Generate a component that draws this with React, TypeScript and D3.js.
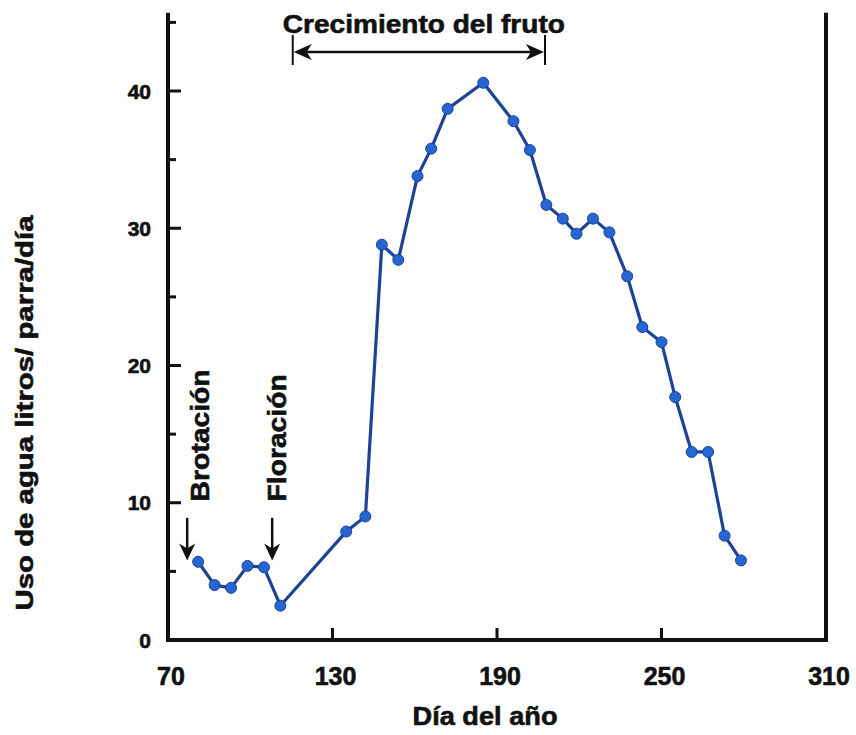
import React, { useEffect, useRef } from 'react';
import * as d3 from 'd3';

// día del año y uso de agua (litros/parra/día)
const days = [81, 87, 93, 99, 105, 111, 135, 142, 148, 154, 161, 166, 172, 185, 196, 202, 208, 214, 219, 225, 231, 237.5, 243, 250, 255, 261, 267, 273, 279];
const waterUse = [5.7, 4.0, 3.8, 5.4, 5.3, 2.5, 7.9, 9.0, 28.8, 27.7, 33.8, 35.8, 38.7, 40.6, 37.8, 35.7, 31.7, 30.7, 29.6, 30.7, 29.7, 26.5, 22.8, 21.7, 17.7, 13.7, 13.7, 7.6, 5.8];

const xTicks = [70, 130, 190, 250, 310];
const yMajorTicks = [0, 10, 20, 30, 40];
const yMinorTicks = [5, 15, 25, 35, 45];

const stageLabels = ['Brotación', 'Floración'];
const stageDays = [77, 108];
const fruitLabel = 'Crecimiento del fruto';
const fruitDays = [115.5, 207.5];

const FONT = '"Liberation Sans", Arial, sans-serif';

function Chart() {
  const ref = useRef<SVGSVGElement>(null);

  useEffect(() => {
    const svg = d3.select(ref.current);
    svg.selectAll('*').remove();

    const x = d3.scaleLinear().domain([70, 310]).range([168, 826]);
    const y = d3.scaleLinear().domain([0, 40]).range([640, 91]);
    const yTop = y(45.7);

    const boldText = (sel: any) => sel
      .attr('font-family', FONT).attr('font-weight', 'bold')
      .attr('fill', '#111').attr('stroke', '#111').attr('stroke-width', 0.6);

    // ticks del eje y (hacia adentro)
    const ticks = svg.append('g').attr('stroke', '#111').attr('stroke-width', 3);
    ticks.selectAll('line.ymaj')
      .data(yMajorTicks).enter().append('line')
      .attr('x1', x(70)).attr('x2', x(70) + 13)
      .attr('y1', d => y(d)).attr('y2', d => y(d));
    ticks.selectAll('line.ymin')
      .data(yMinorTicks).enter().append('line')
      .attr('x1', x(70)).attr('x2', x(70) + 8)
      .attr('y1', d => y(d)).attr('y2', d => y(d));
    ticks.selectAll('line.xt')
      .data(xTicks.slice(1, -1)).enter().append('line')
      .attr('x1', d => x(d)).attr('x2', d => x(d))
      .attr('y1', y(0)).attr('y2', y(0) - 12);

    svg.append('g').selectAll('text')
      .data(yMajorTicks).enter().append('text')
      .attr('x', x(70) - 17)
      .attr('y', d => y(d))
      .attr('dy', '0.36em')
      .attr('text-anchor', 'end')
      .attr('font-size', 21)
      .call(boldText)
      .text(d => d3.format('d')(d));

    svg.append('g').selectAll('text')
      .data(xTicks).enter().append('text')
      .attr('x', d => x(d) + 3)
      .attr('y', 685)
      .attr('text-anchor', 'middle')
      .attr('font-size', 25)
      .call(boldText)
      .text(d => d3.format('d')(d));

    // marco: izquierda, abajo, derecha
    svg.append('path')
      .attr('d', `M${x(70)},${yTop}V${y(0)}H${x(310)}V${yTop}`)
      .attr('fill', 'none')
      .attr('stroke', '#111')
      .attr('stroke-width', 4);

    // linea y puntos
    const pts = days.map((d, i) => [d, waterUse[i]] as [number, number]);
    const line = d3.line<[number, number]>().x(d => x(d[0])).y(d => y(d[1]));
    svg.append('path')
      .datum(pts)
      .attr('d', line)
      .attr('fill', 'none')
      .attr('stroke', '#1c4396')
      .attr('stroke-width', 3.2)
      .attr('stroke-linejoin', 'round');
    svg.selectAll('circle.pt')
      .data(pts)
      .enter()
      .append('circle')
      .attr('class', 'pt')
      .attr('cx', d => x(d[0]))
      .attr('cy', d => y(d[1]))
      .attr('r', 5.5)
      .attr('fill', '#2566d3')
      .attr('stroke', '#1c4396')
      .attr('stroke-width', 1);

    // flechas de fenologia
    const labelOffsets = [12, 4];
    stageDays.forEach((d, i) => {
      const ax = x(d);
      const tipY = y(5.8);
      const topY = y(8.9);
      svg.append('line')
        .attr('x1', ax).attr('x2', ax)
        .attr('y1', topY).attr('y2', tipY - 10)
        .attr('stroke', '#111').attr('stroke-width', 2.5);
      svg.append('path')
        .attr('d', `M${ax},${tipY}L${ax - 8},${tipY - 17}L${ax},${tipY - 12}L${ax + 8},${tipY - 17}Z`)
        .attr('fill', '#111');
      const tx = ax + labelOffsets[i] + 10;
      const ty = y(10.1);
      svg.append('text')
        .attr('transform', `translate(${tx},${ty}) rotate(-90)`)
        .attr('font-size', 26)
        .call(boldText)
        .attr('textLength', i === 0 ? 132 : 127)
        .attr('lengthAdjust', 'spacingAndGlyphs')
        .text(stageLabels[i]);
    });

    // crecimiento del fruto
    const bx0 = x(fruitDays[0]);
    const bx1 = x(fruitDays[1]);
    const by = 52;
    const bracket = svg.append('g');
    bracket.append('line').attr('x1', bx0 + 10).attr('x2', bx1 - 10).attr('y1', by).attr('y2', by)
      .attr('stroke', '#111').attr('stroke-width', 2.5);
    [bx0, bx1].forEach(bx => {
      bracket.append('line').attr('x1', bx).attr('x2', bx).attr('y1', by - 17).attr('y2', by + 13)
        .attr('stroke', '#111').attr('stroke-width', 2);
    });
    bracket.append('path')
      .attr('d', `M${bx0 + 1},${by}L${bx0 + 19},${by - 8}L${bx0 + 14},${by}L${bx0 + 19},${by + 8}Z`)
      .attr('fill', '#111');
    bracket.append('path')
      .attr('d', `M${bx1 - 1},${by}L${bx1 - 19},${by - 8}L${bx1 - 14},${by}L${bx1 - 19},${by + 8}Z`)
      .attr('fill', '#111');
    svg.append('text')
      .attr('x', (bx0 + bx1) / 2 + 5).attr('y', 33)
      .attr('text-anchor', 'middle')
      .attr('font-size', 25)
      .call(boldText)
      .attr('textLength', 282)
      .attr('lengthAdjust', 'spacingAndGlyphs')
      .text(fruitLabel);

    // titulos de ejes
    svg.append('text')
      .attr('x', 485).attr('y', 725)
      .attr('text-anchor', 'middle')
      .attr('font-size', 26)
      .call(boldText)
      .attr('textLength', 145)
      .attr('lengthAdjust', 'spacingAndGlyphs')
      .text('Día del año');

    svg.append('text')
      .attr('transform', 'translate(33,413) rotate(-90)')
      .attr('text-anchor', 'middle')
      .attr('font-size', 24)
      .call(boldText)
      .attr('textLength', 395)
      .attr('lengthAdjust', 'spacingAndGlyphs')
      .text('Uso de agua litros/ parra/día');
  }, []);

  return (
    <svg ref={ref} width={856} height={735}
      style={{ position: 'absolute', left: 0, top: 0, background: '#fff' }} />
  );
}

export default function App() {
  return (
    <div>
      <Chart />
    </div>
  );
}
